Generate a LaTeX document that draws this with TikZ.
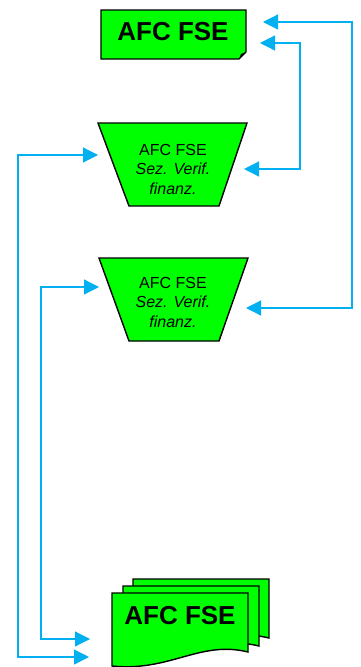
\documentclass[tikz,border=0pt]{standalone}
\usepackage{fontspec}
\setmainfont{Liberation Sans}
\usetikzlibrary{arrows.meta}
\definecolor{fsegreen}{RGB}{0,255,0}
\definecolor{linkblue}{RGB}{0,176,240}

\begin{document}
\begin{tikzpicture}[x=1pt,y=-1pt]
\tikzstyle{every node}+=[inner sep=0pt]
\tikzstyle{box}=[fill=fsegreen, draw=black, line width=1.4pt, line join=miter]
\tikzstyle{link}=[draw=linkblue, line width=1.2pt, {Triangle[length=15pt,width=15pt]}-{Triangle[length=15pt,width=15pt]}]
\tikzstyle{big}=[font=\fontsize{26}{30}\selectfont\bfseries]
\tikzstyle{small}=[align=center, font=\fontsize{16}{19.5}\selectfont]
\useasboundingbox (0,0) rectangle (361,667);
% top document
\draw [box] (101,10) -- (246,10) -- (246,52) -- (239,59) -- (101,59) -- cycle;
\fill [black] (239,59) -- (246,52) -- (241,54) -- cycle;
\node [big] (doc) at (173,32) {AFC FSE};
% verification offices
\draw [box] (98,123) -- (247,123) -- (219,206) -- (129,206) -- cycle;
\node [small] (ver1) at (173,169) {AFC FSE\\\textit{Sez. Verif.}\\\textit{finanz.}};
\draw [box] (99,258) -- (248,258) -- (219,341) -- (129,341) -- cycle;
\node [small] (ver2) at (173,302) {AFC FSE\\\textit{Sez. Verif.}\\\textit{finanz.}};
% stack of documents
\draw [box] (133,579) -- (269,579) -- (269,638) .. controls (221,626) and (191,658) .. (133,652) -- cycle;
\draw [box] (123,586) -- (259,586) -- (259,646) .. controls (211,634) and (181,666) .. (123,660) -- cycle;
\draw [box] (112,593) -- (248,593) -- (248,652) .. controls (200,640) and (170,672) .. (112,666) -- cycle;
\node [big] (docs) at (180,616) {AFC FSE};
% link ends
\coordinate (doc in1) at (263,22);
\coordinate (doc in2) at (260,43);
\coordinate (ver1 in r) at (244,169);
\coordinate (ver1 in l) at (98,155);
\coordinate (ver2 in r) at (246,308);
\coordinate (ver2 in l) at (99,287);
\coordinate (docs in1) at (90,639);
\coordinate (docs in2) at (89,657);
\draw [link] (doc in1) -- ++(89,0) |- (ver2 in r);
\draw [link] (doc in2) -- ++(40,0) |- (ver1 in r);
\draw [link] (ver1 in l) -- ++(-80,0) |- (docs in2);
\draw [link] (ver2 in l) -- ++(-58,0) |- (docs in1);
\end{tikzpicture}
\end{document}
